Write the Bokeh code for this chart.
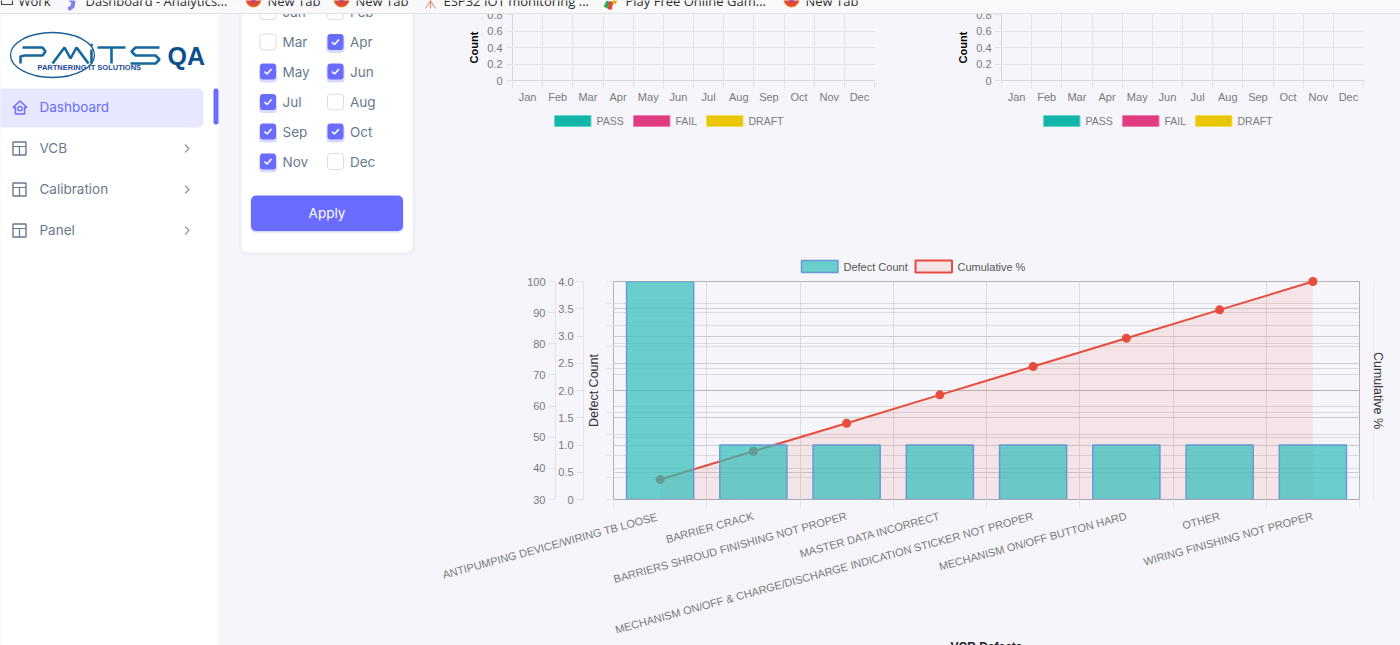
import math

import numpy as np

from bokeh.core.properties import value
from bokeh.embed import file_html
from bokeh.layouts import column, row
from bokeh.models import FixedTicker, Grid, LinearAxis, Range1d
from bokeh.plotting import figure
from bokeh.resources import INLINE

# chart data
months = ["Jan", "Feb", "Mar", "Apr", "May", "Jun", "Jul", "Aug", "Sep", "Oct", "Nov", "Dec"]
pass_counts = [0, 0, 0, 0, 0, 0, 0, 0, 0, 0, 0, 0]
fail_counts = [0, 0, 0, 0, 0, 0, 0, 0, 0, 0, 0, 0]
draft_counts = [0, 0, 0, 0, 0, 0, 0, 0, 0, 0, 0, 0]
count_ticks = [0, 0.2, 0.4, 0.6, 0.8]

defects = ["ANTIPUMPING DEVICE/WIRING TB  LOOSE", "BARRIER CRACK", "BARRIERS SHROUD FINISHING NOT PROPER",
           "MASTER DATA INCORRECT", "MECHANISM ON/OFF & CHARGE/DISCHARGE INDICATION STICKER NOT PROPER",
           "MECHANISM ON/OFF BUTTON HARD", "OTHER", "WIRING FINISHING NOT PROPER"]
defect_counts = [4, 1, 1, 1, 1, 1, 1, 1]
cumulative_pct = [36.4, 45.5, 54.5, 63.6, 72.7, 81.8, 90.9, 100]
count_axis_ticks = [0, 0.5, 1, 1.5, 2, 2.5, 3, 3.5, 4]
pct_axis_ticks = [30, 40, 50, 60, 70, 80, 90, 100]
blank_axis_ticks = [0, 0.1, 0.2, 0.3, 0.4, 0.5, 0.6, 0.7, 0.8, 0.9, 1]

# legends
status_labels = ["PASS", "FAIL", "DRAFT"]
status_colors = ["#13b5a8", "#e03a80", "#e8c605"]
status_borders = ["#62d6cc", "#ef7fae", "#f3dc5c"]
status_swatch_x = [554, 633, 706]
status_label_x = [596, 675, 748]

# page text
bookmarks = ["Work", "Dashboard - Analytics...", "New Tab", "New Tab", "ESP32 IOT monitoring ...",
             "Play Free Online Gam...", "New Tab"]
bookmark_x = [18, 85, 267, 355, 443, 625, 805]
firefox_x = [253, 341, 791]
menu_items = ["VCB", "Calibration", "Panel"]
menu_y = [148, 189, 230]
checked_months = ["Apr", "May", "Jun", "Jul", "Sep", "Oct", "Nov"]

PAGE = "#f5f5fb"
SANS = "Liberation Sans"
UI = "Inter"
PURPLE = "#696cff"
GREY = "#697a8d"
LABEL = "#7a7a7a"
GRID = "#e3e3ea"


def blank(width, height, x0, x1, y0, y1, fill=PAGE, **kw):
    # page pieces are drawn in plain pixel coordinates
    p = figure(width=width, height=height, x_range=Range1d(x0, x1), y_range=Range1d(y1, y0),
               output_backend="svg", toolbar_location=None, x_axis_type=None, y_axis_type=None,
               min_border=0, outline_line_color=None, background_fill_color=fill, border_fill_color=fill, **kw)
    p.grid.visible = False
    return p


def put_text(p, x, y, txt, size, color, align="left", font=UI, style="normal", **kw):
    p.text(x=[x], y=[y], text=[txt], text_font=value(font), text_font_size=size, text_color=color,
           text_align=align, text_baseline="middle", text_font_style=style, **kw)


def key_swatch(p, px, top, bottom, **kw):
    # legend keys live outside the frame, so they go on the unclipped level
    p.quad(left=[px], right=[px + 36.5], top=[top], bottom=[bottom], x_range_name="px", y_range_name="py",
           level="annotation", **kw)


def month_chart(width, left, right, page_left, shift):
    x = np.arange(12) + 0.5
    p = figure(width=width, height=135, x_range=Range1d(0, 12), y_range=Range1d(0, 0.8),
               output_backend="svg", toolbar_location=None, outline_line_color=None,
               min_border_left=left, min_border_right=right, min_border_top=14, min_border_bottom=55,
               background_fill_color=PAGE, border_fill_color=PAGE)
    p.extra_x_ranges = {"px": Range1d(page_left + left, page_left + width - right)}
    p.extra_y_ranges = {"py": Range1d(80, 14)}
    for counts, color in zip([pass_counts, fail_counts, draft_counts], status_colors):
        p.vbar(x=x, top=counts, width=0.8, fill_color=color, line_color=None)
    p.xaxis.ticker = FixedTicker(ticks=list(x), minor_ticks=list(range(13)))
    p.xaxis.major_label_overrides = {float(a): m for a, m in zip(x, months)}
    p.xaxis.major_tick_line_color = None
    p.xaxis.minor_tick_in = 0
    p.xaxis.minor_tick_out = 8
    p.xaxis.minor_tick_line_color = GRID
    p.xaxis.major_label_standoff = 2
    p.yaxis.ticker = FixedTicker(ticks=count_ticks)
    p.yaxis.major_label_overrides = {0: "0"}
    p.yaxis.major_tick_in = 0
    p.yaxis.major_tick_out = 7
    p.yaxis.major_tick_line_color = GRID
    p.yaxis.minor_tick_line_color = None
    p.yaxis.major_label_standoff = 3
    p.yaxis.axis_label = "Count"
    p.yaxis.axis_label_text_font = SANS
    p.yaxis.axis_label_text_font_size = "11px"
    p.yaxis.axis_label_text_font_style = "bold"
    p.yaxis.axis_label_text_color = "#000000"
    p.yaxis.axis_label_standoff = 4
    for ax in [p.xaxis[0], p.yaxis[0]]:
        ax.axis_line_color = "#d6d6de"
        ax.major_label_text_font = SANS
        ax.major_label_text_font_size = "11px"
        ax.major_label_text_color = LABEL
    p.xgrid.grid_line_color = None
    p.xgrid.minor_grid_line_color = GRID
    p.ygrid.ticker = FixedTicker(ticks=count_ticks)
    p.ygrid.grid_line_color = GRID
    for lab, color, edge, sx, lx in zip(status_labels, status_colors, status_borders, status_swatch_x, status_label_x):
        key_swatch(p, sx + shift, 115, 126, fill_color=color, line_color=edge)
        put_text(p, lx + shift, 120, lab, "10.5px", LABEL, font=SANS, x_range_name="px", y_range_name="py", level="annotation")
    return p


# browser bookmark strip, lies over the top of the page
strip = blank(1400, 14, 0, 1400, 0, 14, fill="#f9f9fb",
              styles={"position": "fixed", "left": "0", "top": "0", "z-index": "10"})
strip.quad(left=[0], right=[1400], top=[12.5], bottom=[14], fill_color="#e2e2e4", line_color=None)
strip.quad(left=[1], right=[12], top=[-3], bottom=[4], fill_color=None, line_color="#444444", line_width=1.2)
for name, bx in zip(bookmarks, bookmark_x):
    put_text(strip, bx, 0, name, "13px", "#2b2b2b", font="Open Sans")
strip.circle(x=firefox_x, y=[-1, -1, -1], radius=7.5, fill_color="#e0483a", line_color="#f08a1d")
strip.circle(x=firefox_x, y=[-2, -2, -2], radius=3, fill_color="#7a2ea8", line_color=None)
strip.multi_line(xs=[[69, 73, 72, 68]], ys=[[-1, 1, 6, 9]], line_color="#7b83ee", line_width=4)
strip.multi_line(xs=[[425, 430], [430, 435], [430, 430]], ys=[[8, 0], [0, 8], [0, 8]], line_color="#e8865a", line_width=1)
strip.multi_line(xs=[[605, 608], [609, 611], [613, 615]], ys=[[7, 1], [9, 1], [3, 0]],
                 line_color=["#2fa84f", "#e0483a", "#e8b100"], line_width=4)

# left column: side menu and month filter card
side = blank(430, 645, 0, 430, 0, 645)
side.quad(left=[-8], right=[218], top=[-8], bottom=[660], fill_color="#ffffff", line_color=None)
side.quad(left=[-8], right=[203], top=[88], bottom=[127], fill_color="#e7e7ff", line_color=None, border_radius=6)
side.quad(left=[213], right=[218], top=[88], bottom=[124], fill_color=PURPLE, line_color=None, border_radius=2)

# logo
side.ellipse(x=[52], y=[54.5], width=[84], height=[45], fill_color=None, line_color="#1a5f98", line_width=1.3)
side.multi_line(xs=[[20, 20, 24, 42, 45, 42, 22], [52, 64, 70, 76, 88], [91, 91], [97, 125], [111, 111],
                    [159, 135, 131, 135, 155, 159, 155, 130]],
                ys=[[63, 56, 55, 55, 51, 47, 47], [63, 47, 58, 47, 63], [49, 63], [47, 47], [47, 63],
                    [47, 47, 51, 55, 55, 59, 63, 63]],
                line_color="#14679f", line_width=2.6)
side.circle(x=[91], y=[44.5], radius=1.5, fill_color="#14679f", line_color=None)
put_text(side, 37, 66.5, "PARTNERING IT SOLUTIONS", "7.5px", "#1b4c96", font=SANS, style="bold")
put_text(side, 167, 55, "QA", "25px", "#0c4f8f", font=SANS, style="bold")

# menu
put_text(side, 39, 106.5, "Dashboard", "13.5px", PURPLE)
for name, my in zip(menu_items, menu_y):
    put_text(side, 39, my - 0.5, name, "13.5px", GREY)
    side.quad(left=[12.5], right=[25.5], top=[my - 6.5], bottom=[my + 6.5], fill_color=None, line_color=GREY, line_width=1.4)
    side.multi_line(xs=[[12.5, 25.5], [19, 19]], ys=[[my - 2, my - 2], [my - 2, my + 6.5]], line_color=GREY, line_width=1.2)
    side.line(x=[184.5, 188.5, 184.5], y=[my - 4, my, my + 4], line_color="#8a96a3", line_width=1.1)
side.line(x=[12.5, 19.5, 26.5, 24, 24, 15, 15, 12.5], y=[107, 100.5, 107, 107, 113.5, 113.5, 107, 107],
          line_color=PURPLE, line_width=1.5)
side.circle(x=[19.5], y=[108], radius=2.2, fill_color=None, line_color=PURPLE, line_width=1.3)

# filter card
side.quad(left=[238], right=[415], top=[-10], bottom=[255], fill_color="#ececf5", line_color=None, border_radius=9, alpha=0.6)
side.quad(left=[241], right=[412], top=[-10], bottom=[252], fill_color="#ffffff", line_color=None, border_radius=7)
for i, m in enumerate(months):
    cx = 267.5 if i % 2 == 0 else 335
    cy = [11, 41.5, 71, 101.5, 131, 161][i // 2]
    if m in checked_months:
        side.quad(left=[cx - 9], right=[cx + 9], top=[cy - 7], bottom=[cy + 11], fill_color=PURPLE, alpha=0.25, line_color=None, border_radius=4)
        side.quad(left=[cx - 8], right=[cx + 8], top=[cy - 8], bottom=[cy + 8], fill_color=PURPLE, line_color=None, border_radius=3)
        side.line(x=[cx - 3.5, cx - 1, cx + 3.5], y=[cy, cy + 2.5, cy - 2.5], line_color="#ffffff", line_width=1.6)
    else:
        side.quad(left=[cx - 8], right=[cx + 8], top=[cy - 8], bottom=[cy + 8], fill_color="#ffffff", line_color="#d9dee3", border_radius=3)
    put_text(side, cx + 14.5, cy, m, "13.5px", GREY)
side.quad(left=[250], right=[403], top=[197], bottom=[232], fill_color=PURPLE, alpha=0.25, line_color=None, border_radius=5)
side.quad(left=[250.5], right=[402.5], top=[195], bottom=[230.5], fill_color=PURPLE, line_color=None, border_radius=5)
put_text(side, 326.5, 212.5, "Apply", "13.5px", "#ffffff", align="center")

# two empty monthly charts
chart_a = month_chart(490, 82, 46, 430, 0)
chart_b = month_chart(480, 81, 37, 920, 489)

# pareto chart, its x axis title runs off the bottom of the page
x = np.arange(len(defects)) + 0.5
pareto = figure(width=970, height=531, x_range=Range1d(0, len(defects)), y_range=Range1d(0, 4),
                output_backend="svg", toolbar_location=None, outline_line_color="#b4b4b8",
                min_border_left=183, min_border_right=41, min_border_top=146, min_border_bottom=167,
                background_fill_color=PAGE, border_fill_color=PAGE, y_axis_location=None)
pareto.extra_y_ranges = {"pct": Range1d(30, 100), "blank": Range1d(0, 1), "py": Range1d(499, 281)}
pareto.extra_x_ranges = {"px": Range1d(613, 1359)}
pareto.xaxis.ticker = FixedTicker(ticks=list(x), minor_ticks=list(range(len(defects) + 1)))
pareto.xaxis.major_label_overrides = {float(a): d for a, d in zip(x, defects)}
pareto.xaxis.major_label_orientation = math.radians(15.3)
pareto.xaxis.major_label_text_font = SANS
pareto.xaxis.major_label_text_font_size = "11px"
pareto.xaxis.major_label_text_color = LABEL
pareto.xaxis.major_label_standoff = 8
pareto.xaxis.major_tick_line_color = None
pareto.xaxis.minor_tick_in = 0
pareto.xaxis.minor_tick_out = 8
pareto.xaxis.minor_tick_line_color = GRID
pareto.xaxis.axis_line_color = "#a8a8ae"
pareto.xaxis.axis_label = "VCB Defects"
pareto.xaxis.axis_label_standoff = -4
pareto.xaxis.axis_label_text_font = SANS
pareto.xaxis.axis_label_text_font_size = "12px"
pareto.xaxis.axis_label_text_font_style = "bold"
pareto.xaxis.axis_label_text_color = "#222222"
pareto.xgrid.grid_line_color = None
pareto.xgrid.minor_grid_line_color = "#dcdce2"


def pareto_axis(ticks, range_name, overrides, tick_color=GRID):
    ax = LinearAxis(y_range_name=range_name, ticker=FixedTicker(ticks=ticks), major_label_overrides=overrides,
                    major_tick_in=0, major_tick_out=7, major_tick_line_color=tick_color, minor_tick_line_color=None,
                    axis_line_color=tick_color, major_label_text_font=SANS, major_label_text_font_size="11px",
                    major_label_text_color=LABEL, major_label_standoff=3, axis_label_text_font=SANS,
                    axis_label_text_font_size="12.5px", axis_label_text_font_style="normal",
                    axis_label_text_color="#333333")
    # overlapping grids darken, as in the original
    pareto.add_layout(Grid(axis=ax, y_range_name=range_name, dimension=1, grid_line_color="#000000",
                           grid_line_alpha=0.1), "center")
    return ax


blank_axis = pareto_axis(blank_axis_ticks, "blank", {t: "" for t in blank_axis_ticks})
blank_axis.major_label_standoff = 0
blank_axis.axis_line_color = None
blank_axis.axis_label = "Defect Count"
blank_axis.axis_label_standoff = 6
count_axis = pareto_axis(count_axis_ticks, "default", {0: "0", 1: "1.0", 2: "2.0", 3: "3.0", 4: "4.0"})
pct_axis = pareto_axis(pct_axis_ticks, "pct", {})
pareto.add_layout(blank_axis, "left")
pareto.add_layout(count_axis, "left")
pareto.add_layout(pct_axis, "left")
right_gap = LinearAxis(y_range_name="blank", ticker=FixedTicker(ticks=[0.5]), major_label_overrides={0.5: ""},
                       axis_line_color=None, major_tick_in=0, major_tick_out=14, major_tick_line_color=None,
                       minor_tick_line_color=None, major_label_standoff=0)
right_axis = LinearAxis(y_range_name="blank", ticker=FixedTicker(ticks=[]), axis_line_color="#ececf1",
                        major_tick_line_color=None, minor_tick_line_color=None, axis_label="Cumulative %",
                        axis_label_text_font=SANS, axis_label_text_font_size="12.5px",
                        axis_label_text_font_style="normal", axis_label_text_color="#333333", axis_label_standoff=-3)
pareto.add_layout(right_gap, "right")
pareto.add_layout(right_axis, "right")

baseline = [pct_axis_ticks[0]] * len(cumulative_pct)
pareto.varea(x=x, y1=baseline, y2=cumulative_pct, y_range_name="pct", fill_color="#e74c3c", fill_alpha=0.1)
pareto.line(x=x, y=cumulative_pct, y_range_name="pct", line_color="#e74c3c", line_width=2)
pareto.circle(x=x[:-1], y=cumulative_pct[:-1], y_range_name="pct", size=9, fill_color="#e74c3c", line_color=None)
# the last point sits on the frame edge and must not be clipped
pareto.circle(x=x[-1:], y=cumulative_pct[-1:], y_range_name="pct", size=9, fill_color="#e74c3c", line_color=None,
              level="annotation")
pareto.vbar(x=x, top=defect_counts, width=0.72, fill_color="#2fbdb9", fill_alpha=0.7,
            line_color="#6b98d8", line_width=1.5)

key_swatch(pareto, 801, 260, 272, fill_color="#2fbdb9", fill_alpha=0.7, line_color="#6b98d8", line_width=1.5)
key_swatch(pareto, 915, 260, 272, fill_color="#e74c3c", fill_alpha=0.1, line_color="#e74c3c", line_width=2)
put_text(pareto, 843, 266, "Defect Count", "11px", "#555555", font=SANS, x_range_name="px", y_range_name="py", level="annotation")
put_text(pareto, 957, 266, "Cumulative %", "11px", "#555555", font=SANS, x_range_name="px", y_range_name="py", level="annotation")

page = column(strip, row(side, column(row(chart_a, chart_b), pareto)),
              styles={"position": "fixed", "left": "0", "top": "0", "background-color": PAGE})

open("out.html", "w").write(file_html(page, INLINE))
